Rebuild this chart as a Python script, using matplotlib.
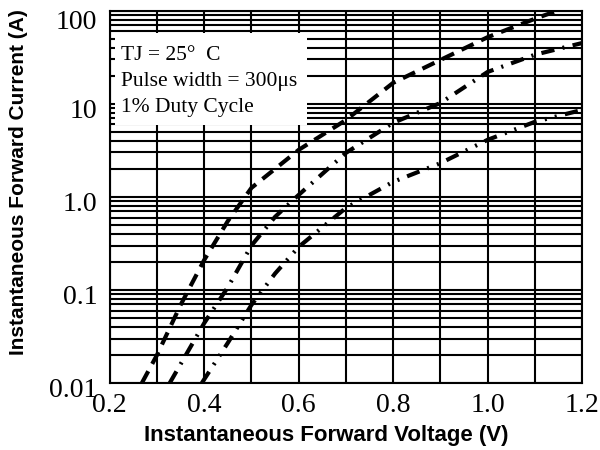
import numpy as np
import matplotlib
matplotlib.use("Agg")
import matplotlib.pyplot as plt
from matplotlib.patches import Rectangle
from matplotlib.transforms import ScaledTranslation
from matplotlib.ticker import FixedLocator, LogLocator, NullFormatter

# values (V, A)
v1 = [0.268, 0.30, 0.35, 0.40, 0.45, 0.50, 0.60, 0.70, 0.80, 0.90, 1.00, 1.10, 1.147]
i1 = [0.01, 0.02, 0.069, 0.21, 0.55, 1.25, 3.2, 6.7, 16.8, 29.6, 52, 82, 100]
v2 = [0.327, 0.40, 0.45, 0.50, 0.55, 0.60, 0.70, 0.80, 0.90, 1.00, 1.10, 1.20]
i2 = [0.01, 0.044, 0.107, 0.3, 0.61, 1.05, 2.97, 6.25, 10.2, 22, 33.7, 45]
v3 = [0.395, 0.45, 0.50, 0.55, 0.60, 0.65, 0.70, 0.80, 0.90, 1.00, 1.10, 1.20]
i3 = [0.01, 0.027, 0.069, 0.15, 0.29, 0.47, 0.76, 1.45, 2.3, 4.1, 6.4, 8.6]

xticks = [0.2, 0.4, 0.6, 0.8, 1.0, 1.2]
yticks = [0.01, 0.1, 1, 10, 100]
ylabels = ["0.01", "0.1", "1.0", "10", "100"]
notes = ["TJ = 25\u00b0  C", "Pulse width = 300\u03bcs", "1% Duty Cycle"]

fig = plt.figure(figsize=(6, 4.5), dpi=100)
ax = fig.add_axes([0.183, 0.149, 0.787, 0.827])
ax.set_yscale("log")
ax.set_xlim(0.2, 1.2)
ax.set_ylim(0.01, 100)

# grid
ax.xaxis.set_minor_locator(FixedLocator(np.arange(0.3, 1.2, 0.1)))
ax.yaxis.set_minor_locator(LogLocator(base=10, subs=np.arange(2, 10)))
ax.yaxis.set_minor_formatter(NullFormatter())
ax.grid(True, which="both", color="black", lw=1.5)
ax.set_axisbelow(True)

ax.plot(v1, i1, color="black", lw=3, dashes=(3.2, 2))
ax.plot(v2, i2, color="black", lw=3, dashes=(3.2, 2, 0.5, 2))
ax.plot(v3, i3, color="black", lw=3, dashes=(3.2, 2, 0.5, 2, 0.5, 2))

ax.set_xticks(xticks)
ax.set_xticklabels(["%.1f" % x for x in xticks], family="Liberation Serif", fontsize=20)
ax.set_yticks(yticks)
ax.set_yticklabels(ylabels, family="Liberation Serif", fontsize=20)
ax.tick_params(which="both", direction="in", length=0)
ax.tick_params(axis="x", pad=7)
ax.tick_params(axis="y", pad=9)
# y labels sit a little below their lines in the reference
shift = ScaledTranslation(0, -3 / 72, fig.dpi_scale_trans)
for lab in ax.get_yticklabels():
    lab.set_transform(lab.get_transform() + shift)
top = ax.get_yticklabels()[-1]
top.set_transform(top.get_transform() + ScaledTranslation(0, -3 / 72, fig.dpi_scale_trans))
for s in ax.spines.values():
    s.set_linewidth(1.5)

ax.set_xlabel("Instantaneous Forward Voltage (V)", family="Liberation Sans",
              fontweight="bold", fontsize=16, labelpad=0)
ax.xaxis.set_label_coords(0.459, -0.113)
ax.set_ylabel("Instantaneous Forward Current (A)", family="Liberation Sans",
              fontweight="bold", fontsize=15)
ax.yaxis.set_label_coords(-0.174, 0.539)

# white note box over the grid
ax.add_patch(Rectangle((0.0106, 0.694), 0.408, 0.247, transform=ax.transAxes,
                       facecolor="white", edgecolor="none", zorder=2))
for k, line in enumerate(notes):
    ax.text(0.023, 0.868 - 0.07 * k, line, transform=ax.transAxes,
            va="baseline", ha="left", family="Liberation Serif",
            fontsize=15.5, zorder=3)

fig.savefig("out.png", dpi=100)
